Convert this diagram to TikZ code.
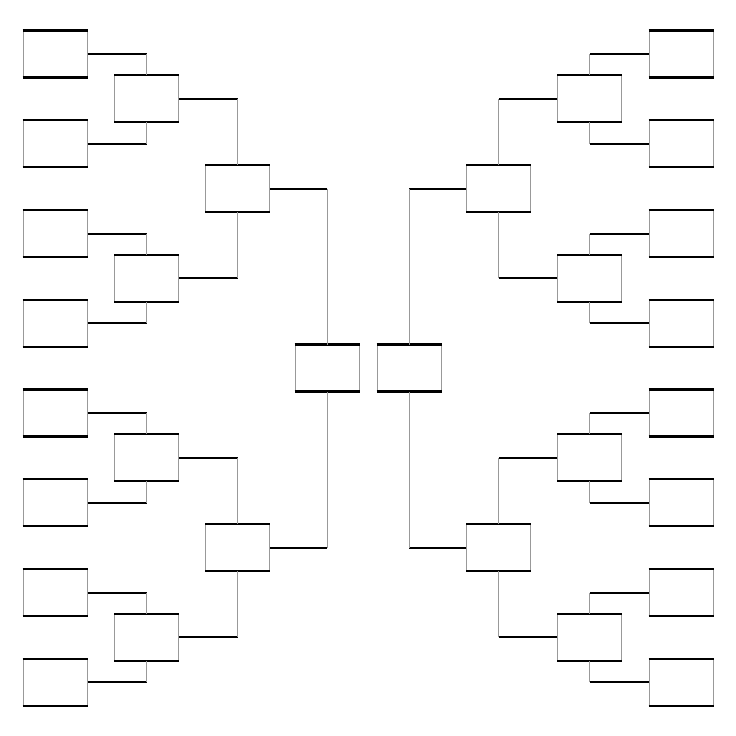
\documentclass[tikz,border=0pt]{standalone}
\usepackage{tikz}

\tikzset{
  slot/.style={draw=gray!80, line width=0.75pt, fill=white, inner sep=0pt,
    minimum width=48pt, minimum height=34.5pt,
    append after command={
      (\tikzlastnode.north west) edge[draw=black, line width=1.6pt] (\tikzlastnode.north east)
      (\tikzlastnode.south west) edge[draw=black, line width=1.6pt] (\tikzlastnode.south east)}},
  hwire/.style={draw=black, line width=1.5pt},
  vwire/.style={draw=gray!80, line width=0.75pt}
}

\begin{document}
\begin{tikzpicture}[x=0.75pt,y=0.75pt,yscale=-1,xscale=1]
        \useasboundingbox (0,0) rectangle (736,736);

        % first round
        \foreach \k in {0,...,7} {
            \node[slot] (L1-\k) at (55,54+89.75*\k) {};
            \node[slot] (R1-\k) at (681,54+89.75*\k) {};
        }
        % second round
        \foreach \k in {0,...,3} {
            \node[slot] (L2-\k) at (146.5,98.9+179.5*\k) {};
            \node[slot] (R2-\k) at (589.5,98.9+179.5*\k) {};
        }
        % third round
        \foreach \k in {0,1} {
            \node[slot] (L3-\k) at (237.5,188.6+359*\k) {};
            \node[slot] (R3-\k) at (498.5,188.6+359*\k) {};
        }
        % final
        \node[slot] (LF) at (327,368) {};
        \node[slot] (RF) at (409,368) {};

        % wires round 1 -> 2
        \foreach \k in {0,...,3} {
            \pgfmathtruncatemacro{\a}{2*\k}
            \pgfmathtruncatemacro{\b}{2*\k+1}
            \draw[hwire] (L1-\a.east) -- (L1-\a.east -| L2-\k.north);
            \draw[vwire] (L1-\a.east -| L2-\k.north) -- (L2-\k.north);
            \draw[hwire] (L1-\b.east) -- (L1-\b.east -| L2-\k.south);
            \draw[vwire] (L1-\b.east -| L2-\k.south) -- (L2-\k.south);
            \draw[hwire] (R1-\a.west) -- (R1-\a.west -| R2-\k.north);
            \draw[vwire] (R1-\a.west -| R2-\k.north) -- (R2-\k.north);
            \draw[hwire] (R1-\b.west) -- (R1-\b.west -| R2-\k.south);
            \draw[vwire] (R1-\b.west -| R2-\k.south) -- (R2-\k.south);
        }
        % wires round 2 -> 3
        \foreach \k in {0,1} {
            \pgfmathtruncatemacro{\a}{2*\k}
            \pgfmathtruncatemacro{\b}{2*\k+1}
            \draw[hwire] (L2-\a.east) -- (L2-\a.east -| L3-\k.north);
            \draw[vwire] (L2-\a.east -| L3-\k.north) -- (L3-\k.north);
            \draw[hwire] (L2-\b.east) -- (L2-\b.east -| L3-\k.south);
            \draw[vwire] (L2-\b.east -| L3-\k.south) -- (L3-\k.south);
            \draw[hwire] (R2-\a.west) -- (R2-\a.west -| R3-\k.north);
            \draw[vwire] (R2-\a.west -| R3-\k.north) -- (R3-\k.north);
            \draw[hwire] (R2-\b.west) -- (R2-\b.west -| R3-\k.south);
            \draw[vwire] (R2-\b.west -| R3-\k.south) -- (R3-\k.south);
        }
        % wires round 3 -> final
        \draw[hwire] (L3-0.east) -- (L3-0.east -| LF.north);
        \draw[vwire] (L3-0.east -| LF.north) -- (LF.north);
        \draw[hwire] (L3-1.east) -- (L3-1.east -| LF.south);
        \draw[vwire] (L3-1.east -| LF.south) -- (LF.south);
        \draw[hwire] (R3-0.west) -- (R3-0.west -| RF.north);
        \draw[vwire] (R3-0.west -| RF.north) -- (RF.north);
        \draw[hwire] (R3-1.west) -- (R3-1.west -| RF.south);
        \draw[vwire] (R3-1.west -| RF.south) -- (RF.south);
\end{tikzpicture}
\end{document}
